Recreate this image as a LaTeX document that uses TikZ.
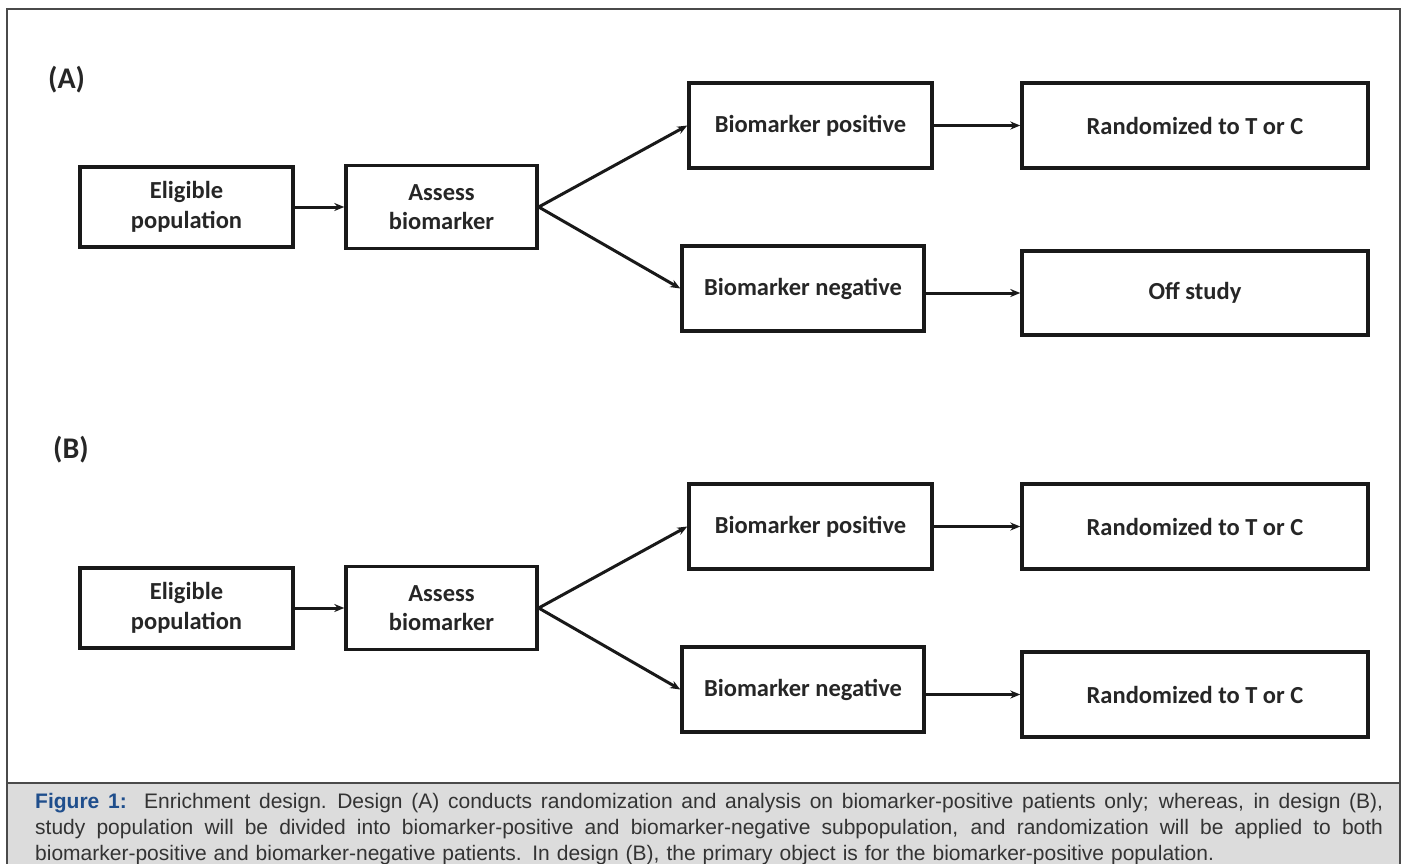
\documentclass[tikz,border=0pt]{standalone}
\usepackage{fontspec}
\setmainfont{Liberation Sans}
\newfontfamily\calfont{Carlito}
\usetikzlibrary{arrows.meta, positioning}
\definecolor{cframe}{HTML}{4A4A4A}
\definecolor{cfill}{HTML}{DCDCDC}
\definecolor{ctext}{HTML}{333333}
\definecolor{cfig}{HTML}{1F4E8C}
\newcommand\capline[1]{\leavevmode\hbox to 1348pt{\spaceskip=0.278em plus 1fil\relax #1}}
\tikzset{
  every picture/.style={x=1pt, y=-1pt},
  box/.style={draw=black!90, line width=3.4pt, align=center, inner sep=0pt, text=black!85,
    font=\calfont\bfseries\fontsize{24.5}{29.5}\selectfont},
  arrow/.style={-{Stealth[length=10pt, width=8pt]}, line width=3pt, draw=black!90},
  panel/.style={anchor=west, inner sep=0pt, text=black!85, font=\calfont\bfseries\fontsize{30}{34}\selectfont},
  caption/.style={anchor=north west, inner sep=0pt, text width=1348pt, align=left, text=ctext,
    font=\fontsize{21}{26}\selectfont},
}

\begin{document}
\begin{tikzpicture}
  \useasboundingbox (0,0) rectangle (1402,863);
  % frame and caption band
  \fill[cfill] (7,783) rectangle (1400,880);
  \draw[cframe, line width=1.4pt] (7,9) rectangle (1400,880);
  \draw[cframe, line width=1.4pt] (7,783) -- (1400,783);

  % design (A)
  \node[panel] (la) at (48,80) {(A)};
  \node[box, minimum width=213pt, minimum height=80pt] (ea) at (186.5,207) {Eligible\\population};
  \node[box, minimum width=191pt, minimum height=83pt] (aa) at (441.5,207) {Assess\\biomarker};
  \node[box, minimum width=243pt, minimum height=85pt] (pa) at (810.5,125.5) {Biomarker positive};
  \node[box, minimum width=242pt, minimum height=85pt] (na) at (803,288.5) {Biomarker negative};
  \node[box, minimum width=346pt, minimum height=85pt] (ra) at (1195,125.5) {Randomized to T or C};
  \node[box, minimum width=346pt, minimum height=84pt] (oa) at (1195,293) {Off study};
  \draw[arrow] (ea) -- (aa);
  \draw[arrow] (aa.east) -- (pa.west);
  \draw[arrow] (aa.east) -- (na.west);
  \draw[arrow] (pa) -- (ra);
  \draw[arrow] (oa.west -| na.east) -- (oa.west);

  % design (B)
  \node[panel] (lb) at (53,450) {(B)};
  \node[box, minimum width=213pt, minimum height=80pt] (eb) at (186.5,608) {Eligible\\population};
  \node[box, minimum width=191pt, minimum height=83pt] (ab) at (441.5,608) {Assess\\biomarker};
  \node[box, minimum width=243pt, minimum height=85pt] (pb) at (810.5,526.5) {Biomarker positive};
  \node[box, minimum width=242pt, minimum height=85pt] (nb) at (803,689.5) {Biomarker negative};
  \node[box, minimum width=346pt, minimum height=85pt] (rb) at (1195,526.5) {Randomized to T or C};
  \node[box, minimum width=346pt, minimum height=85pt] (sb) at (1195,694.5) {Randomized to T or C};
  \draw[arrow] (eb) -- (ab);
  \draw[arrow] (ab.east) -- (pb.west);
  \draw[arrow] (ab.east) -- (nb.west);
  \draw[arrow] (pb) -- (rb);
  \draw[arrow] (sb.west -| nb.east) -- (sb.west);

  \node[caption] (cap) at (35,793) {%
    \capline{\textcolor{cfig}{\bfseries Figure 1:}\ \ Enrichment design. Design (A) conducts randomization and analysis on biomarker-positive patients only; whereas, in design (B),}\\
    \capline{study population will be divided into biomarker-positive and biomarker-negative subpopulation, and randomization will be applied to both}\\
    biomarker-positive and biomarker-negative patients. In design (B), the primary object is for the biomarker-positive population.};
\end{tikzpicture}
\end{document}
